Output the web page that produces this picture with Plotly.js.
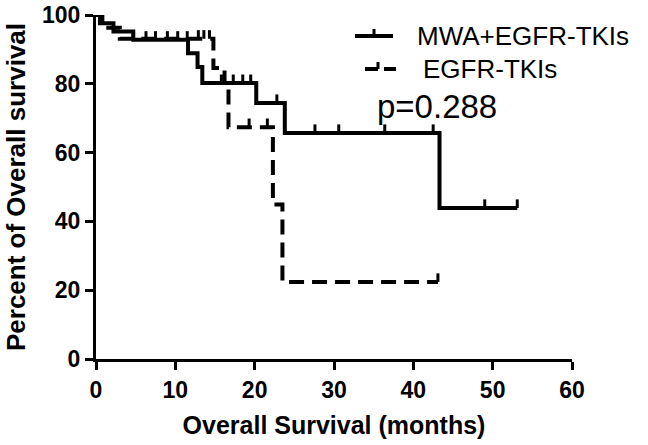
<!DOCTYPE html>
<html>
<head>
<meta charset="utf-8">
<script src="https://cdn.plot.ly/plotly-3.0.1.min.js"></script>
<style>html,body{margin:0;padding:0;background:#fff;}#chart{width:648px;height:445px;}</style>
</head>
<body>
<div id="chart"></div>
<script>
// Kaplan-Meier step data
const solidName = "MWA+EGFR-TKIs";
const solidTimes = [0, 0.5, 2.2, 4.7, 11.6, 12.8, 13.4, 20.2, 23.8, 43.3];
const solidSurv  = [100, 97.6, 95.2, 92.8, 88.9, 84.9, 80.2, 74.4, 65.7, 43.9];
const solidEnd = 53.1;
const solidCensorT = [4.7, 6.3, 7.5, 9.0, 10.3, 11.5, 15.8, 17.3, 18.5, 19.5, 22.8, 27.6, 30.6, 36.4, 42.5, 49.0, 53.1];

const dashName = "EGFR-TKIs";
const dashTimes = [0, 0.8, 3.0, 14.8, 16.2, 16.7, 22.3, 23.5];
const dashSurv  = [100, 96.3, 93.1, 84.6, 80.2, 67.4, 44.9, 22.4];
const dashEnd = 43.1;
const dashCensorT = [12.9, 13.6, 14.3, 19.3, 21.6, 43.1];

const xTicks = [0, 10, 20, 30, 40, 50, 60];
const yTicks = [0, 20, 40, 60, 80, 100];
const pText = "p=0.288";

function survAt(times, surv, t) {
  let s = surv[0];
  for (let i = 0; i < times.length; i++) if (times[i] <= t) s = surv[i];
  return s;
}
function censorSegs(times, surv, cts, h) {
  const x = [], y = [];
  cts.forEach(t => { const s = survAt(times, surv, t); x.push(t, t, null); y.push(s, s + h, null); });
  return {x, y};
}

const FONT = "Arial, 'Liberation Sans', sans-serif";
const W = 648, H = 445, M = {l: 96, r: 76, t: 15, b: 86};
// pixel -> paper helpers for the hand-placed legend
const px = X => (X - M.l) / (W - M.l - M.r);
const py = Y => (H - M.b - Y) / (H - M.t - M.b);

const sc = censorSegs(solidTimes, solidSurv, solidCensorT, 2.5);
const dc = censorSegs(dashTimes, dashSurv, dashCensorT, 2.5);

const traces = [
  {x: solidTimes.concat([solidEnd]), y: solidSurv.concat([solidSurv[solidSurv.length-1]]),
   mode: "lines", line: {shape: "hv", color: "#000", width: 4}, name: solidName, showlegend: false},
  {x: dashTimes.concat([dashEnd]), y: dashSurv.concat([dashSurv[dashSurv.length-1]]),
   mode: "lines", line: {shape: "hv", color: "#000", width: 4, dash: "15px,8px"}, name: dashName, showlegend: false},
  {x: sc.x, y: sc.y, mode: "lines", line: {color: "#000", width: 3}, showlegend: false, hoverinfo: "skip"},
  {x: dc.x, y: dc.y, mode: "lines", line: {color: "#000", width: 3}, showlegend: false, hoverinfo: "skip"}
];

const lg = {xref: "paper", yref: "paper", type: "line"};
const shapes = [
  Object.assign({x0: px(355), x1: px(393), y0: py(36), y1: py(36), line: {color: "#000", width: 4}}, lg),
  Object.assign({x0: px(374), x1: px(374), y0: py(36), y1: py(29), line: {color: "#000", width: 3}}, lg),
  Object.assign({x0: px(365), x1: px(378), y0: py(69), y1: py(69), line: {color: "#000", width: 4}}, lg),
  Object.assign({x0: px(378), x1: px(378), y0: py(69), y1: py(62), line: {color: "#000", width: 3}}, lg),
  Object.assign({x0: px(384), x1: px(396), y0: py(69), y1: py(69), line: {color: "#000", width: 4}}, lg)
];

const layout = {
  width: W, height: H,
  margin: M,
  paper_bgcolor: "#fff", plot_bgcolor: "#fff",
  font: {family: FONT, color: "#000"},
  xaxis: {
    range: [0, 60], tickvals: xTicks, ticktext: xTicks.map(String),
    showline: true, linecolor: "#000", linewidth: 3, ticks: "outside", ticklen: 8, tickwidth: 3, tickcolor: "#000",
    showgrid: false, zeroline: false,
    tickfont: {family: FONT, size: 23, weight: "bold"},
    title: {text: "<b>Overall Survival (months)</b>", font: {family: FONT, size: 25}, standoff: 15},
    automargin: false
  },
  yaxis: {
    range: [0, 100], tickvals: yTicks, ticktext: yTicks.map(String),
    showline: true, linecolor: "#000", linewidth: 3, ticks: "outside", ticklen: 8, tickwidth: 3, tickcolor: "#000",
    showgrid: false, zeroline: false,
    tickfont: {family: FONT, size: 23, weight: "bold"},
    title: {text: "<b>Percent of Overall survival</b>", font: {family: FONT, size: 26}, standoff: 9},
    automargin: false
  },
  showlegend: false,
  shapes: shapes,
  annotations: [
    {x: px(415), y: py(36), xref: "paper", yref: "paper", text: solidName, showarrow: false,
     font: {family: FONT, size: 26}, xanchor: "left", yanchor: "middle"},
    {x: px(421), y: py(69), xref: "paper", yref: "paper", text: dashName, showarrow: false,
     font: {family: FONT, size: 26}, xanchor: "left", yanchor: "middle"},
    {x: 43, y: 73.5, xref: "x", yref: "y", text: pText, showarrow: false,
     font: {family: FONT, size: 33}, xanchor: "center", yanchor: "middle"}
  ]
};

Plotly.newPlot("chart", traces, layout, {staticPlot: true});
</script>
</body>
</html>
